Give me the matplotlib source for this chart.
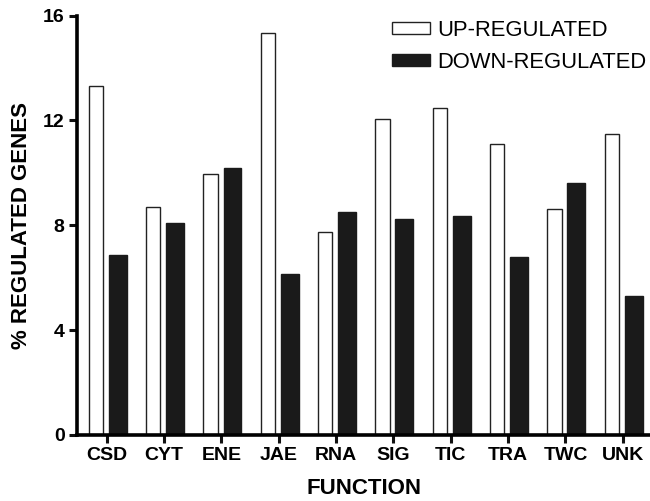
import matplotlib.pyplot as plt
import numpy as np

plt.rcParams['font.family'] = ['Liberation Sans', 'DejaVu Sans']

# categories and values (% regulated genes)
functions = ["CSD", "CYT", "ENE", "JAE", "RNA", "SIG", "TIC", "TRA", "TWC", "UNK"]
up = [13.33, 8.69, 9.94, 15.35, 7.73, 12.04, 12.46, 11.09, 8.61, 11.47]
down = [6.86, 8.08, 10.17, 6.13, 8.50, 8.23, 8.34, 6.78, 9.60, 5.30]
yticks = [0, 4, 8, 12, 16]

fig = plt.figure(figsize=(6.5, 5.01), dpi=100)
ax = fig.add_axes([0.1185, 0.132, 0.882, 0.837])

x = np.arange(len(functions))
ax.bar(x - 0.19, up, width=0.25, color="white", edgecolor="#222222", linewidth=1.0,
       label="UP-REGULATED")
ax.bar(x + 0.19, down, width=0.31, color="#1a1a1a", edgecolor="#1a1a1a", linewidth=1.0,
       label="DOWN-REGULATED")

ax.set_xlim(-0.52, 9.48)
ax.set_ylim(0, 16)
ax.set_yticks(yticks)
ax.set_xticks(x)
ax.set_xticklabels(functions, fontsize=14, fontweight="bold")
ax.set_yticklabels([str(t) for t in yticks], fontsize=14, fontweight="bold")

for s in ["top", "right"]:
    ax.spines[s].set_visible(False)
ax.spines["left"].set_linewidth(2.6)
ax.spines["bottom"].set_linewidth(2.6)
ax.tick_params(axis="both", direction="out", length=6, width=2.2, color="#111111", pad=3)

ax.set_ylabel("% REGULATED GENES", fontsize=16, fontweight="bold")
ax.yaxis.set_label_coords(-0.079, 0.5)
ax.set_xlabel("FUNCTION", fontsize=16, fontweight="bold", labelpad=10)

leg = fig.legend(loc="upper left", bbox_to_anchor=(392 / 650, 1 - 20 / 501),
                 frameon=False, fontsize=15.8, handlelength=1.75, handleheight=0.5,
                 handletextpad=0.33, labelspacing=0.5, borderpad=0, borderaxespad=0)

fig.savefig("out.png", dpi=100)
